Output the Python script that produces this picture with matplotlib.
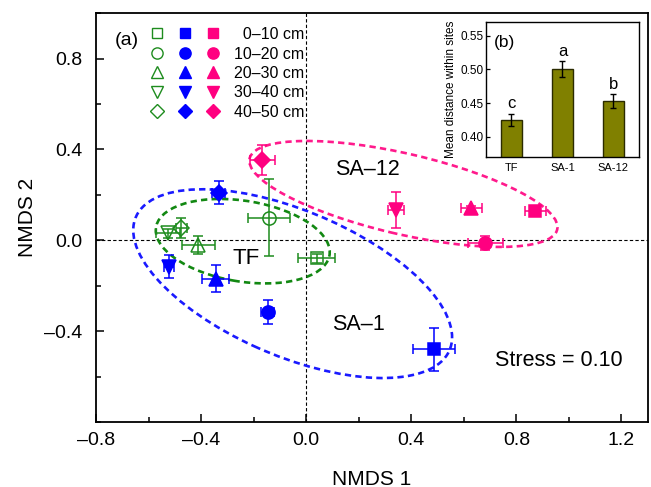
import matplotlib
matplotlib.use('Agg')
import matplotlib.pyplot as plt
import numpy as np
from matplotlib.lines import Line2D
from matplotlib.patches import Ellipse
from matplotlib.legend_handler import HandlerTuple
from matplotlib.ticker import MultipleLocator, FuncFormatter, FixedLocator

plt.rcParams['font.family'] = ['Liberation Sans', 'DejaVu Sans']

# ---------------- data ----------------
depths = ['0–10 cm', '10–20 cm', '20–30 cm', '30–40 cm', '40–50 cm']
markers = ['s', 'o', '^', 'v', 'D']
marker_sizes = [8.5, 9.5, 10.5, 10.5, 8.5]

site_names = ['TF', 'SA–1', 'SA–12']

tf_x = [0.04, -0.14, -0.41, -0.525, -0.475]
tf_y = [-0.08, 0.10, -0.02, 0.03, 0.053]
tf_xerr = [0.07, 0.08, 0.063, 0.045, 0.02]
tf_yerr = [0.02, 0.17, 0.04, 0.02, 0.045]

sa1_x = [0.488, -0.146, -0.345, -0.523, -0.333]
sa1_y = [-0.48, -0.316, -0.169, -0.116, 0.209]
sa1_xerr = [0.08, 0.025, 0.052, 0.02, 0.025]
sa1_yerr = [0.095, 0.053, 0.058, 0.05, 0.05]

sa12_x = [0.872, 0.681, 0.629, 0.342, -0.167]
sa12_y = [0.129, -0.013, 0.142, 0.133, 0.352]
sa12_xerr = [0.04, 0.067, 0.04, 0.03, 0.047]
sa12_yerr = [0.01, 0.03, 0.01, 0.078, 0.066]

# confidence ellipses (TF, SA-1, SA-12): centre, semi-axes, angle (data units)
ell_cx = [-0.2415, -0.0515, 0.370]
ell_cy = [-0.004, -0.191, 0.204]
ell_a = [0.336, 0.666, 0.606]
ell_b = [0.177, 0.312, 0.176]
ell_ang = [-11.5, -27.8, -15.3]

# inset bar chart
bar_labels = ['TF', 'SA-1', 'SA-12']
bar_vals = [0.425, 0.500, 0.453]
bar_errs = [0.009, 0.012, 0.010]
bar_letters = ['c', 'a', 'b']

# ---------------- style ----------------
green = '#1E8C1E'
blue = '#0000FF'
pink = '#FF0080'
ell_colors = ['#128812', '#1a1aff', '#FF1a8c']

fig = plt.figure(figsize=(6.51, 4.87), dpi=100)
ax = fig.add_axes([0.1475, 0.1335, 0.8475, 0.8395])

sites = [
    (tf_x, tf_y, tf_xerr, tf_yerr, green, 'none'),
    (sa1_x, sa1_y, sa1_xerr, sa1_yerr, blue, blue),
    (sa12_x, sa12_y, sa12_xerr, sa12_yerr, pink, pink),
]

ax.axhline(0, color='black', lw=0.8, ls=(0, (3, 2)), zorder=1)
ax.axvline(0, color='black', lw=0.8, ls=(0, (3, 2)), zorder=1)

for i in range(3):
    e = Ellipse((ell_cx[i], ell_cy[i]), 2 * ell_a[i], 2 * ell_b[i], angle=ell_ang[i],
                fill=False, edgecolor=ell_colors[i], lw=1.9, ls=(0, (2.4, 1.6)), zorder=2)
    ax.add_patch(e)

for xs, ys, xe, ye, c, fc in sites:
    for j in range(5):
        ax.errorbar(xs[j], ys[j], xerr=xe[j], yerr=ye[j], fmt=markers[j],
                    ms=marker_sizes[j], mfc=fc, mec=c, mew=1.1, ecolor=c,
                    elinewidth=1.1, capsize=3.5, capthick=1.1, zorder=3)

ax.set_xlim(-0.8, 1.3)
ax.set_ylim(-0.8, 1.0)
ax.xaxis.set_major_locator(FixedLocator([-0.8, -0.4, 0.0, 0.4, 0.8, 1.2]))
ax.yaxis.set_major_locator(FixedLocator([-0.4, 0.0, 0.4, 0.8]))
ax.xaxis.set_minor_locator(MultipleLocator(0.2))
ax.yaxis.set_minor_locator(MultipleLocator(0.2))


def fmt(v, p):
    if abs(v) < 1e-9:
        v = 0.0
    return f'{v:.1f}'.replace('-', '–')


ax.xaxis.set_major_formatter(FuncFormatter(fmt))
ax.yaxis.set_major_formatter(FuncFormatter(fmt))
ax.tick_params(which='major', direction='in', length=6, width=1.1, labelsize=14)
ax.tick_params(axis='x', which='major', pad=7)
ax.tick_params(axis='y', which='major', pad=10)
ax.tick_params(which='minor', direction='in', length=3.5, width=1.1)
for s in ax.spines.values():
    s.set_linewidth(1.3)

ax.set_xlabel('NMDS 1', fontsize=15, labelpad=15)
ax.set_ylabel('NMDS 2', fontsize=15, labelpad=5)

ax.text(0.034, 0.934, '(a)', transform=ax.transAxes, fontsize=14, ha='left', va='center')
ax.text(-0.23, -0.08, 'TF', fontsize=16, ha='center', va='center')
ax.text(0.233, 0.311, 'SA–12', fontsize=15.5, ha='center', va='center')
ax.text(0.199, -0.369, 'SA–1', fontsize=15.5, ha='center', va='center')
ax.text(1.206, -0.53, 'Stress = 0.10', fontsize=15.5, ha='right', va='center')

# legend (labels right-aligned with figure spaces)
maxlen = max(len(d) for d in depths)
leg_labels = ['\u2007' * (maxlen - len(d)) + d for d in depths]
handles = []
for j in range(5):
    tup = tuple(Line2D([], [], marker=markers[j], ls='none', ms=marker_sizes[j] * 0.85,
                       mfc=fc, mec=c, mew=1.0)
                for (_, _, _, _, c, fc) in sites)
    handles.append(tup)
leg = ax.legend(handles, leg_labels, handler_map={tuple: HandlerTuple(ndivide=None, pad=0)},
                loc='upper left', bbox_to_anchor=(0.085, 0.966), frameon=False,
                fontsize=11.5, handlelength=5.3, handletextpad=0.4, labelspacing=0.28,
                borderpad=0, borderaxespad=0)

# inset
ins = fig.add_axes([0.7465, 0.6776, 0.235, 0.277])
xpos = np.arange(len(bar_vals))
ins.bar(xpos, bar_vals, width=0.41, color='#808000', edgecolor='#2b2b00', lw=1.0, zorder=2)
ins.errorbar(xpos, bar_vals, yerr=bar_errs, fmt='none', ecolor='black', elinewidth=1.0,
             capsize=2.5, capthick=1.0, zorder=3)
for k in range(len(bar_vals)):
    ins.text(xpos[k], bar_vals[k] + bar_errs[k] + 0.004, bar_letters[k], fontsize=12,
             ha='center', va='bottom')
ins.set_xlim(-0.5, 2.5)
ins.set_ylim(0.37, 0.57)
ins.set_xticks(xpos)
ins.set_xticklabels(bar_labels)
ins.yaxis.set_major_locator(FixedLocator([0.40, 0.45, 0.50, 0.55]))
ins.yaxis.set_major_formatter(FuncFormatter(lambda v, p: f'{v:.2f}'))
ins.tick_params(axis='y', direction='in', length=3, width=0.9, labelsize=8.5, pad=2)
ins.tick_params(axis='x', direction='in', length=0, labelsize=8, pad=4)
ins.set_ylabel('Mean distance within sites', fontsize=8.5, labelpad=2)
ins.text(0.05, 0.85, '(b)', transform=ins.transAxes, fontsize=12.5, ha='left', va='center')
for s in ins.spines.values():
    s.set_linewidth(1.0)

fig.savefig('out.png', dpi=100)
